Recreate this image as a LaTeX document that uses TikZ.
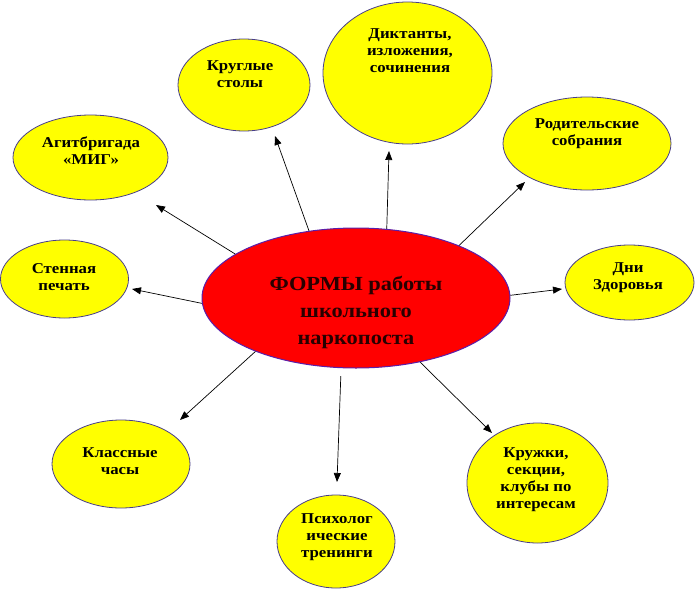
\documentclass[tikz,border=0pt]{standalone}
\usepackage{fontspec}
\newfontfamily\tnr[FakeStretch=1.12]{Liberation Serif}
\usetikzlibrary{shapes.geometric,arrows.meta}
\definecolor{bubline}{RGB}{72,61,139}
\definecolor{mainline}{RGB}{90,30,170}
\definecolor{bubfill}{RGB}{255,255,0}
\definecolor{mainfill}{RGB}{255,0,0}
\definecolor{maintext}{RGB}{40,0,0}
\tikzset{
  bub/.style={ellipse, draw=bubline, line width=0.8pt, fill=bubfill, inner sep=0pt},
  lbl/.style={font=\tnr\bfseries\fontsize{15}{17}\selectfont, align=center, inner sep=0pt, anchor=north},
  mainlbl/.style={font=\tnr\bfseries\fontsize{20}{27}\selectfont, align=center, inner sep=0pt, anchor=north, text=maintext},
  arr/.style={-{Triangle[length=9pt,width=7pt]}, line width=0.7pt, black}
}
\begin{document}
\begin{tikzpicture}[x=1pt,y=-1pt]
\useasboundingbox (0,0) rectangle (697,592);
% central
\node[ellipse, draw=mainline, line width=1pt, fill=mainfill, inner sep=0pt, minimum width=308pt, minimum height=140pt] (c) at (356,298) {};
\node[mainlbl] (ct) at (356,276) {ФОРМЫ работы\\школьного\\наркопоста};
% bubbles
\node[bub, minimum width=155pt, minimum height=85pt] (e1) at (90.5,157.5) {};
\node[lbl] (t1) at (91,137) {Агитбригада\\«МИГ»};
\node[bub, minimum width=132pt, minimum height=92pt] (e2) at (244,85) {};
\node[lbl] (t2) at (240,60) {Круглые\\столы};
\node[bub, minimum width=169pt, minimum height=142pt] (e3) at (407.5,73) {};
\node[lbl] (t3) at (410,28) {Диктанты,\\изложения,\\сочинения};
\node[bub, minimum width=168pt, minimum height=93pt] (e4) at (587,143.5) {};
\node[lbl] (t4) at (587,118) {Родительские\\собрания};
\node[bub, minimum width=128pt, minimum height=78pt] (e5) at (64.5,279) {};
\node[lbl] (t5) at (64,263) {Стенная\\печать};
\node[bub, minimum width=129pt, minimum height=75pt] (e6) at (629.5,282.5) {};
\node[lbl] (t6) at (628,262) {Дни\\Здоровья};
\node[bub, minimum width=138pt, minimum height=88pt] (e7) at (121,464) {};
\node[lbl] (t7) at (120,447) {Классные\\часы};
\node[bub, minimum width=118pt, minimum height=93pt] (e8) at (336,541.5) {};
\node[lbl] (t8) at (337,513) {Психолог\\ические\\тренинги};
\node[bub, minimum width=141pt, minimum height=120pt] (e9) at (537.5,483) {};
\node[lbl] (t9) at (536,447) {Кружки,\\секции,\\клубы по\\интересам};
% arrow tips
\coordinate (a1) at (156,205);
\coordinate (a2) at (275,136);
\coordinate (a3) at (389,151);
\coordinate (a4) at (525,182);
\coordinate (a5) at (132,289);
\coordinate (a6) at (562,289);
\coordinate (a7) at (180,420);
\coordinate (a8) at (337,482);
\coordinate (a9) at (492,433);
\draw[arr] (c.160) -- (a1);
\draw[arr] (c.125) -- (a2);
\draw[arr] (c.66) -- (a3);
\draw[arr] (c.27) -- (a4);
\draw[arr] (c.182) -- (a5);
\draw[arr] (c.1) -- (a6);
\draw[arr] (c.208) -- (a7);
\draw[arr, shorten <=8pt] (c.258) -- (a8);
\draw[arr] (c.315) -- (a9);
\end{tikzpicture}
\end{document}
